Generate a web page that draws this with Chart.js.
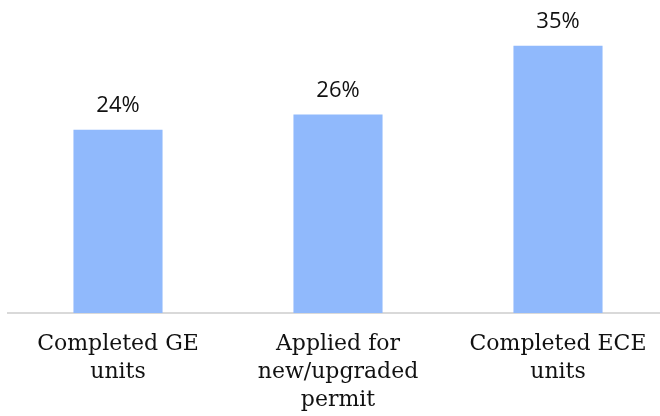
<!DOCTYPE html>
<html>
<head>
<meta charset="utf-8">
<script src="https://cdn.jsdelivr.net/npm/chart.js@4"></script>
<style>
  html, body { margin: 0; padding: 0; background: #fff; overflow: hidden; }
  .wrap { position: relative; width: 668px; height: 416px; }
</style>
</head>
<body>
<div class="wrap"><canvas id="barChart"></canvas></div>
<script>
/* ===== Data ===== */
const categories = [
  ['Completed GE', 'units'],
  ['Applied for', 'new/upgraded', 'permit'],
  ['Completed ECE', 'units']
];
const shares = [24, 26, 35];

const barColor = '#90b9fc';
const textColor = '#111111';
const valueFont = "22px 'Open Sans'";
const tickFont = "22px 'DejaVu Serif'";

/* ===== Value labels above each bar ===== */
const valueLabels = {
  id: 'valueLabels',
  afterDatasetsDraw(chart) {
    const { ctx } = chart;
    const meta = chart.getDatasetMeta(0);
    ctx.save();
    ctx.font = valueFont + ", sans-serif";
    ctx.fillStyle = textColor;
    ctx.textAlign = 'center';
    ctx.textBaseline = 'alphabetic';
    meta.data.forEach((bar, i) => {
      ctx.fillText(shares[i] + '%', bar.x, bar.y - 18);
    });
    ctx.restore();
  }
};

/* ===== Bar Chart ===== */
function initBarChart() {
  const ctx = document.getElementById('barChart');
  if (!ctx) return;

  new Chart(ctx, {
    type: 'bar',
    data: {
      labels: categories,
      datasets: [{
        data: shares,
        backgroundColor: barColor,
        borderWidth: 0,
        barPercentage: 0.405,
        categoryPercentage: 1
      }]
    },
    options: {
      responsive: true,
      maintainAspectRatio: false,
      animation: false,
      layout: { padding: { left: 8, right: 0, top: 0, bottom: 0 } },
      scales: {
        x: {
          grid: { display: false },
          border: { display: true, color: '#d9d9d9', width: 2 },
          ticks: {
            color: textColor,
            padding: 9,
            maxRotation: 0,
            autoSkip: false,
            font: { family: "'DejaVu Serif', serif", size: 22, lineHeight: 1.27 }
          },
          afterFit: (scale) => { scale.height = 103; }
        },
        y: {
          display: false,
          min: 0,
          max: 41
        }
      },
      plugins: {
        legend: { display: false },
        tooltip: { enabled: false }
      }
    },
    plugins: [valueLabels]
  });
}

/* wait for the installed faces so the canvas text uses them */
Promise.all([document.fonts.load(valueFont), document.fonts.load(tickFont)])
  .catch(() => {})
  .then(initBarChart);
</script>
</body>
</html>
